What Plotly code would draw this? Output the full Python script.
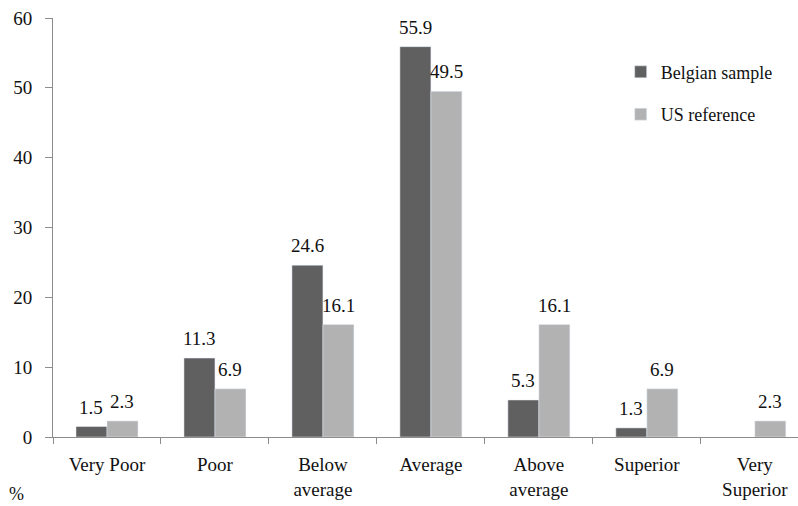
import plotly.graph_objects as go

categories = ["Very Poor", "Poor", "Below<br>average", "Average", "Above<br>average", "Superior", "Very<br>Superior"]
belgian = [1.5, 11.3, 24.6, 55.9, 5.3, 1.3, None]
us_ref = [2.3, 6.9, 16.1, 49.5, 16.1, 6.9, 2.3]
y_ticks = [0, 10, 20, 30, 40, 50, 60]

FONT = "Liberation Serif, serif"
DARK = "#606060"
LIGHT = "#b2b2b2"
AXIS = "#8c8c8c"
BARGAP = 0.426

fig = go.Figure()
fig.add_trace(go.Bar(x=categories, y=belgian, name="Belgian sample",
                     marker_color=DARK, legendgroup="a"))
fig.add_trace(go.Bar(x=categories, y=us_ref, name="US reference",
                     marker_color=LIGHT, legendgroup="b"))

# value labels above each bar, offset to the centre of its slot in the group
half = (1 - BARGAP) / 4
annotations = []
for series, offset in ((belgian, -half), (us_ref, half)):
    for i, v in enumerate(series):
        if v is None:
            continue
        annotations.append(dict(
            x=i + offset, y=v, xref="x", yref="y", text=f"{v:.1f}",
            showarrow=False, xanchor="center", yanchor="bottom", yshift=7,
            font=dict(family=FONT, size=19, color="#111"),
        ))

annotations.append(dict(text="%", xref="paper", yref="paper", x=-0.062, y=-0.136,
                        xanchor="left", yanchor="middle", showarrow=False,
                        font=dict(family=FONT, size=18, color="#111")))

fig.update_layout(
    width=798, height=506,
    margin=dict(l=53, r=0, t=18, b=69),
    paper_bgcolor="white", plot_bgcolor="white",
    barmode="group", bargap=BARGAP, bargroupgap=0,
    font=dict(family=FONT, size=18, color="#111"),
    showlegend=True,
    legend=dict(x=0.762, y=0.915, xanchor="left", yanchor="top",
                font=dict(family=FONT, size=18), tracegroupgap=16,
                bgcolor="rgba(0,0,0,0)"),
    xaxis=dict(type="category", range=[-0.5, 6.4], showline=True, linecolor=AXIS,
               linewidth=1, ticks="outside", tickson="boundaries", ticklen=6,
               tickcolor=AXIS, showgrid=False, tickfont=dict(family=FONT, size=19),
               ticklabelstandoff=10),
    yaxis=dict(range=[0, 60], tickvals=y_ticks, showline=True, linecolor=AXIS,
               linewidth=1, ticks="outside", ticklen=7, tickcolor=AXIS,
               showgrid=False, zeroline=False, tickfont=dict(family=FONT, size=19),
               ticklabelstandoff=9),
    annotations=annotations,
)

fig.write_html("out.html")
